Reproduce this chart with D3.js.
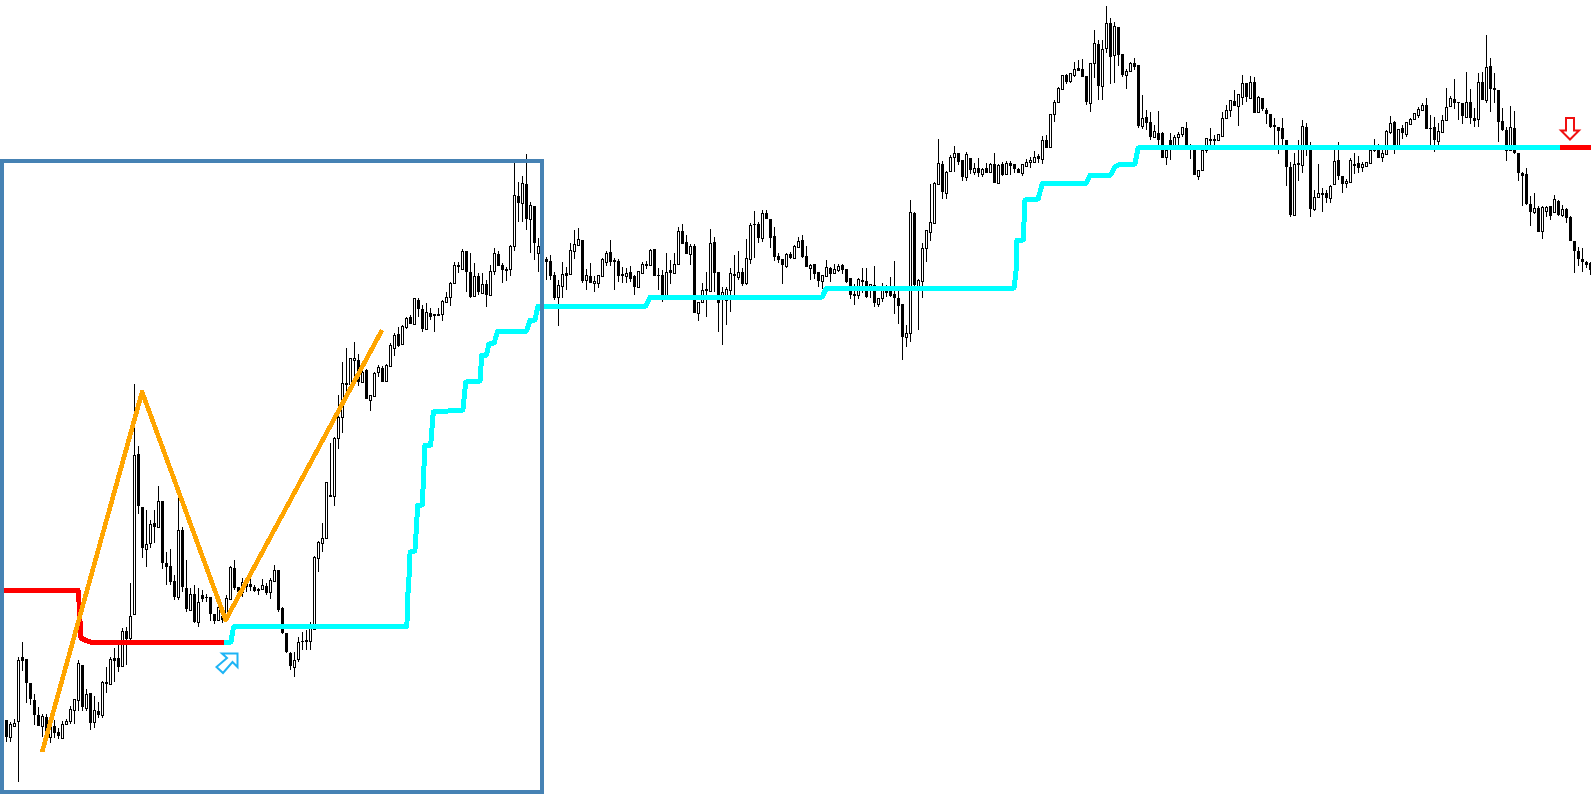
<!DOCTYPE html>
<html><head><meta charset="utf-8">
<style>html,body{margin:0;padding:0;background:#fff;overflow:hidden}svg{display:block}</style>
<script src="https://cdn.jsdelivr.net/npm/d3@7"></script>
</head><body><svg id="c" width="1591" height="800"></svg>
<script>
const opens=[80,63,74,79,143,141,117,100,85,74,83,63,74,68,62,76,79,90,100,135,
92,107,78,89,85,118,116,142,142,134,169,162,186,346,293,251,257,277,273,299,
237,234,219,203,270,212,190,206,178,205,203,203,186,180,184,180,201,232,213,208,
217,216,213,211,211,214,208,219,230,192,167,147,133,141,159,160,159,171,242,257,
262,305,304,362,383,417,416,440,440,418,430,400,404,428,432,419,434,452,466,456,
473,483,476,500,491,471,487,486,485,486,498,503,517,535,531,549,528,504,524,507,
516,505,529,546,535,530,531,554,604,597,616,581,594,547,542,541,539,525,503,514,
527,526,549,555,560,520,524,517,517,524,538,548,540,539,526,524,528,524,513,527,
535,535,551,525,525,502,530,527,536,569,558,546,554,487,498,510,509,558,528,502,
500,510,526,523,528,517,541,576,576,562,587,581,564,544,541,534,546,542,553,560,
544,532,536,528,519,524,532,527,530,535,531,522,506,505,519,519,512,515,496,502,
508,509,506,502,496,463,467,587,513,519,552,568,577,616,636,607,629,643,647,640,
623,642,628,632,626,632,628,636,617,636,626,637,636,631,627,634,638,638,644,641,
660,653,686,698,711,725,719,725,732,731,724,697,737,756,714,752,777,745,773,746,
725,729,737,735,674,683,678,663,667,667,643,660,653,663,666,672,655,652,624,630,
650,660,660,660,664,682,690,699,694,703,717,702,718,688,702,690,686,675,673,672,
660,633,585,637,635,673,653,591,603,606,607,602,616,640,624,617,618,635,637,633,
634,637,650,652,643,646,668,678,653,672,666,676,681,685,690,695,672,673,659,668,
680,694,701,698,697,683,698,682,681,718,700,734,712,710,679,670,650,672,647,627,
626,596,588,592,569,589,594,588,599,585,591,583,559,549,541,538,537];
const closes=[63,76,77,140,139,117,101,85,74,84,68,74,67,64,76,79,91,101,137,93,
106,77,90,85,118,116,141,139,133,169,161,184,345,294,252,256,276,273,299,237,
233,218,203,270,213,191,206,178,198,201,202,186,179,193,180,202,233,212,208,218,
213,213,209,209,215,207,220,230,190,167,148,134,140,158,158,158,173,243,258,262,
318,305,362,383,417,415,442,442,418,428,401,405,427,433,418,435,455,465,454,474,
482,476,502,491,471,488,483,484,486,499,503,517,535,533,549,528,503,524,508,516,
505,529,547,534,530,531,554,605,597,617,581,595,557,554,538,538,524,502,515,526,
524,550,556,561,519,525,517,519,525,541,547,538,538,524,524,527,521,513,529,536,
536,550,524,524,500,528,527,536,569,556,546,554,487,498,510,511,557,527,497,508,
511,527,524,528,516,542,575,575,562,587,581,562,543,540,535,546,542,554,559,543,
533,535,526,519,525,533,526,531,534,530,518,505,504,521,520,503,516,497,502,513,
509,504,502,494,463,467,588,515,520,552,570,578,617,637,608,628,643,647,638,623,
646,630,632,627,631,627,636,617,635,625,637,634,631,627,636,638,640,643,641,660,
652,686,698,712,725,718,727,731,729,723,698,737,757,714,751,777,743,774,745,725,
729,737,733,674,682,677,663,669,660,642,650,653,663,666,673,653,651,625,630,650,
662,661,661,666,682,690,700,694,706,717,703,718,687,703,691,686,673,673,669,661,
633,585,636,635,674,650,591,603,607,607,602,614,639,624,616,619,640,636,632,636,
638,650,654,642,647,669,677,653,671,667,678,681,687,691,695,671,671,660,669,680,
693,702,697,697,684,698,682,679,718,700,733,711,710,678,670,649,673,647,627,624,
596,588,592,568,593,593,584,601,585,591,582,559,549,541,538,535,530];
const highs=[80,78,81,143,158,141,117,106,93,86,86,74,80,72,79,81,94,101,140,135,
111,107,104,98,119,133,143,152,155,172,173,217,416,354,293,290,280,290,314,299,
248,251,225,302,273,240,212,215,212,210,206,203,186,196,188,205,234,240,213,222,
220,222,215,212,221,217,222,235,230,193,167,148,148,163,168,170,178,244,259,277,
318,357,363,405,438,452,442,458,446,433,431,405,428,435,434,436,457,467,473,475,
483,485,502,502,495,497,492,486,492,500,508,518,538,538,551,549,547,537,527,527,
520,535,552,549,537,533,555,637,618,624,646,598,594,562,550,543,545,528,520,538,
533,557,570,572,560,531,537,524,525,542,549,560,542,541,533,532,534,525,529,538,
539,551,551,532,530,547,540,547,573,576,565,556,556,498,517,528,571,563,528,513,
513,532,545,549,532,561,577,589,578,590,590,581,573,547,541,547,548,555,563,565,
554,536,536,528,525,540,533,536,536,536,531,522,516,522,532,532,516,534,502,517,
515,523,539,513,496,475,600,588,521,557,570,616,618,661,639,629,645,654,647,640,
648,642,637,642,632,637,637,647,636,638,639,639,636,632,636,641,643,649,646,664,
665,686,700,713,725,726,727,738,740,741,724,737,770,760,760,794,782,778,773,746,
731,738,742,735,705,690,688,675,689,668,653,667,665,668,673,678,656,652,630,652,
662,672,665,666,688,695,700,710,706,725,717,724,723,704,702,692,686,682,673,682,
660,638,647,660,680,677,658,610,636,612,610,615,650,658,624,621,642,647,644,638,
638,651,661,656,652,670,684,679,671,675,678,682,687,693,697,702,685,683,677,685,
712,704,721,698,697,728,711,692,727,728,765,742,727,710,692,673,694,689,647,628,
632,604,607,594,594,594,594,605,600,595,592,584,559,553,552,539,538];
const lows=[58,58,74,18,129,97,95,75,74,63,63,57,62,61,62,76,76,76,89,89,
89,70,72,82,82,107,116,118,128,134,135,160,186,286,242,233,252,257,273,231,
215,215,200,200,208,188,189,177,173,198,198,179,176,180,177,180,201,210,203,203,
208,209,208,205,211,205,201,219,188,166,147,130,123,138,150,150,150,170,228,248,
262,303,294,351,367,405,415,415,414,417,401,389,404,423,418,419,433,444,453,456,
471,476,476,483,468,470,480,468,484,479,498,494,517,527,531,508,502,503,505,507,
493,505,525,534,517,519,524,549,578,578,570,547,540,528,530,520,520,500,474,502,
510,525,541,555,517,510,517,508,512,524,534,534,510,518,517,517,518,505,513,527,
531,535,524,510,498,500,516,527,536,556,546,535,487,479,498,483,508,508,468,455,
475,488,502,520,514,515,536,542,557,558,581,552,539,537,516,532,541,542,553,542,
533,520,521,513,511,524,518,527,528,526,517,501,495,501,507,502,502,493,493,498,
503,503,486,476,440,453,458,510,470,502,538,559,576,615,601,601,629,628,635,619,
619,626,625,623,623,627,627,617,616,624,626,625,627,627,624,634,632,638,637,636,
652,652,678,698,711,716,717,723,729,723,695,688,722,700,700,747,716,717,734,723,
711,729,730,672,671,670,660,663,653,642,635,640,653,653,663,653,641,625,620,630,
647,653,653,660,664,681,683,694,674,695,698,702,687,688,689,676,672,655,646,652,
614,583,585,619,627,644,583,589,603,588,597,597,616,620,607,612,618,626,627,628,
634,637,648,642,638,646,666,646,653,661,663,676,681,682,690,671,654,648,655,668,
680,694,691,680,676,683,676,673,673,700,697,688,697,658,669,639,650,646,619,594,
595,574,586,568,561,583,580,588,584,583,577,559,527,534,528,532,525];
// trailing stop: [bar, level]
const stopDownA=[[-0.6,209.5],[17.9,209.5],[18.1,200],[18.6,162],[19.6,160],[20.9,158],[54.4,158]];
const stopUp=[[54.4,158],[56.1,158],[56.75,173],[100.1,173.5],[100.25,200],[100.6,220],[100.9,248],[102.1,249],[102.4,267],[102.8,295],[103.95,295],[104.2,317],[104.6,355],[106.05,355],[106.7,388],[114.1,390],[114.8,418],[118.4,419],[118.8,445],[120,445],[120.6,456],[121.9,457],[122.8,469],[130,469],[130.9,480],[132.1,480],[132.9,494],[159.8,494],[160.9,503],[203.9,503],[205,512],[251.9,512],[252.4,530],[252.6,560],[254.2,560],[254.6,600],[257.9,601],[259,617],[270,617],[270.9,625],[276,625],[277.1,633],[278.4,636],[282.1,636],[282.9,652],[388.4,652.5]];
const stopDownB=[[388.4,652.5],[396.5,652.5]];
const zigzag=[[8.9,48],[33.9,408],[54.8,180],[93.9,470]];
const frameBars=[-1.1,133.9];
const frameLevels=[8,639];
const buySignal={bar:55,level:158};
const sellSignal={bar:391,level:652.5};

const svg=d3.select("#c");
const x=d3.scaleLinear().domain([0,396]).range([6.5,1590.5]);
const y=d3.scaleLinear().domain([0,800]).range([800,0]);
const idx=d3.range(opens.length);

const g=svg.append("g").attr("shape-rendering","crispEdges");
g.selectAll("line.w").data(idx).join("line").attr("class","w")
 .attr("x1",i=>x(i)).attr("x2",i=>x(i)).attr("y1",i=>y(highs[i])).attr("y2",i=>y(lows[i]))
 .attr("stroke","#000").attr("stroke-width",1);
g.selectAll("rect.dn").data(idx.filter(i=>closes[i]<opens[i])).join("rect").attr("class","dn")
 .attr("x",i=>x(i)-1.5).attr("width",3)
 .attr("y",i=>y(opens[i])).attr("height",i=>Math.max(1,y(closes[i])-y(opens[i])))
 .attr("fill","#000");
g.selectAll("rect.up").data(idx.filter(i=>closes[i]>=opens[i])).join("rect").attr("class","up")
 .attr("x",i=>x(i)-1).attr("width",2)
 .attr("y",i=>y(closes[i])+0.5).attr("height",i=>Math.max(1,y(opens[i])-y(closes[i])))
 .attr("fill","#fff").attr("stroke","#000").attr("stroke-width",1);

const ln=d3.line().x(d=>x(d[0])).y(d=>y(d[1]));
const ov=svg.append("g").attr("fill","none").attr("stroke-linejoin","round");
ov.append("path").attr("d",ln(stopUp)).attr("stroke","#00FFFF").attr("stroke-width",5).attr("shape-rendering","crispEdges");
ov.append("path").attr("d",ln(stopDownA)).attr("stroke","#FF0000").attr("stroke-width",5).attr("shape-rendering","crispEdges");
ov.append("path").attr("d",ln(stopDownB)).attr("stroke","#FF0000").attr("stroke-width",5).attr("shape-rendering","crispEdges");
ov.append("path").attr("d",ln(zigzag)).attr("stroke","#FFA500").attr("stroke-width",4.6).attr("shape-rendering","crispEdges");

svg.append("rect")
 .attr("x",x(frameBars[0])).attr("y",y(frameLevels[1]))
 .attr("width",x(frameBars[1])-x(frameBars[0])).attr("height",y(frameLevels[0])-y(frameLevels[1]))
 .attr("fill","none").attr("stroke","#4682B4").attr("stroke-width",4).attr("shape-rendering","crispEdges");

const arrow=d3.line();
svg.append("path")
 .attr("transform",`translate(${x(buySignal.bar)},${y(buySignal.level)})`)
 .attr("d",arrow([[11,11.5],[-4.5,11.5],[0.5,16],[-10,25],[-3.5,31],[6,20],[11,25]])+"Z")
 .attr("fill","#fff").attr("stroke","#1EB4F5").attr("stroke-width",2);
svg.append("path")
 .attr("transform",`translate(${x(sellSignal.bar)},${y(sellSignal.level)})`)
 .attr("d",arrow([[-4.5,-29.5],[3.5,-29.5],[3.5,-17],[8.5,-17],[-0.5,-8],[-9.5,-17],[-4.5,-17]])+"Z")
 .attr("fill","#fff").attr("stroke","#F01010").attr("stroke-width",2);
</script></body></html>
